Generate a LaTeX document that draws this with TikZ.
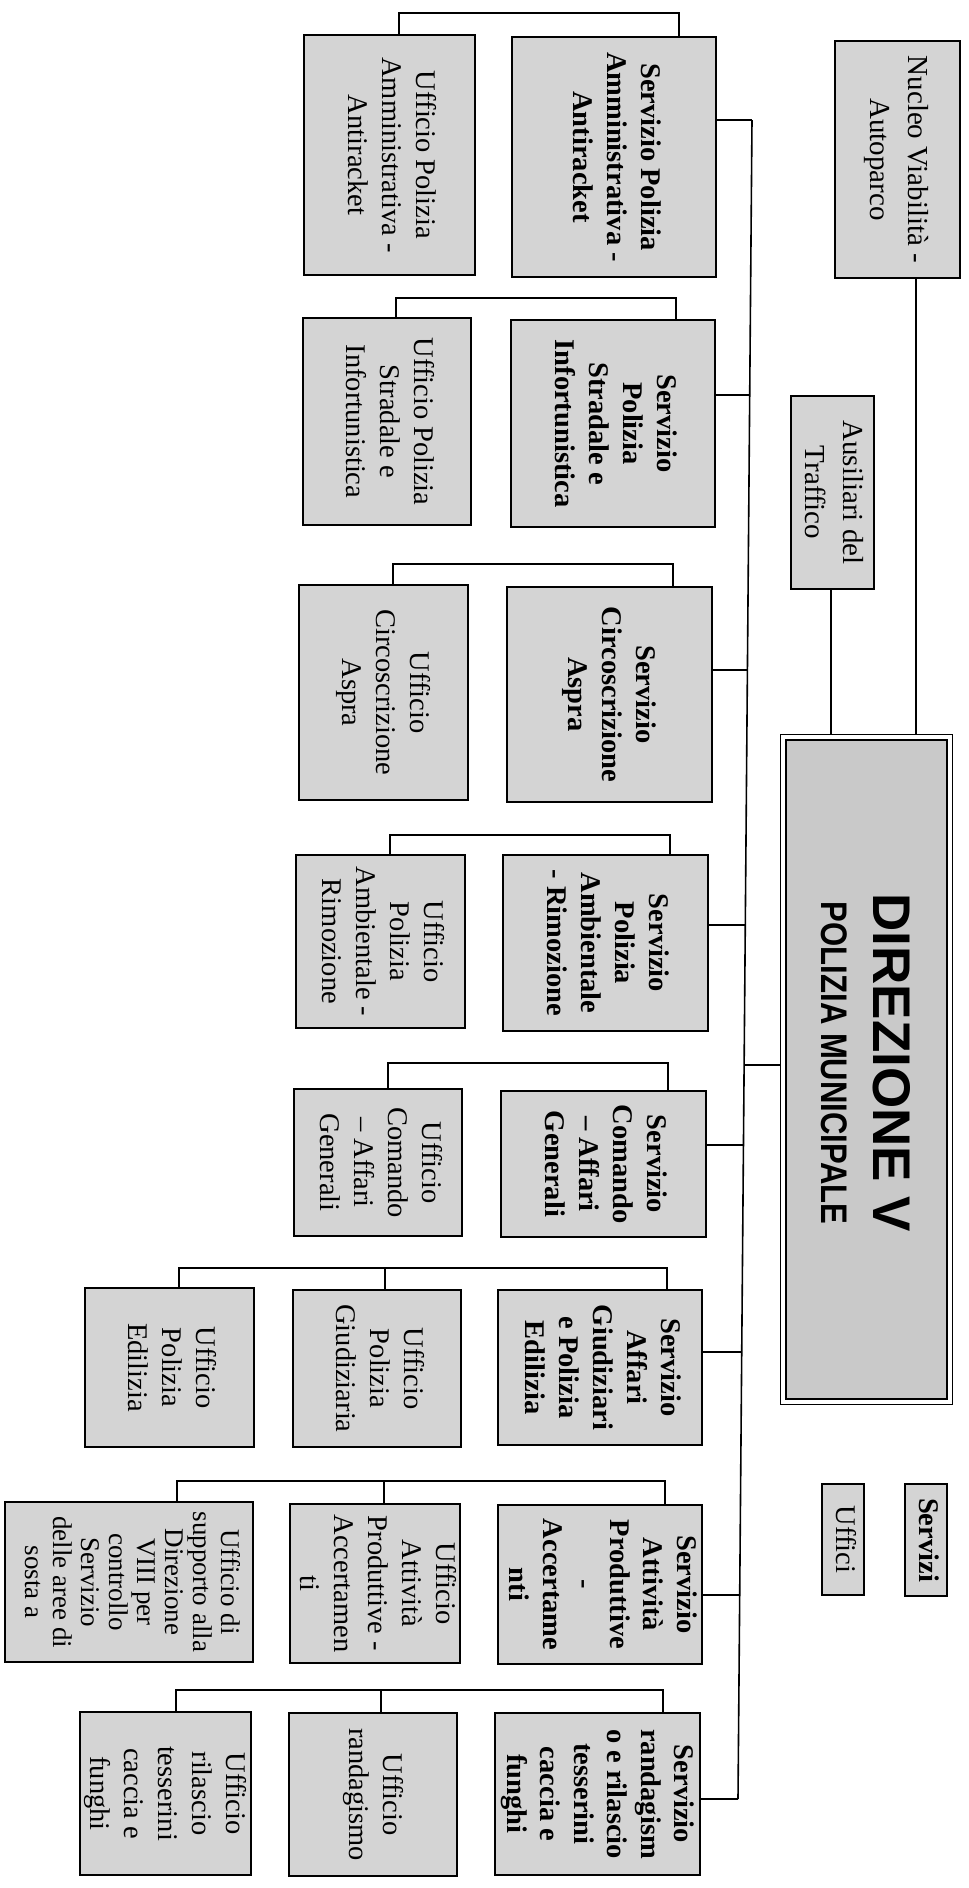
\documentclass[tikz,border=0pt]{standalone}
\usepackage{fontspec}
\usepackage{graphicx}
\setmainfont{Liberation Serif}
\newfontfamily\dirfont{Liberation Sans}
\newcommand\svtext[1]{\rotatebox{-90}{\fontsize{28.5}{34}\selectfont\bfseries\begin{tabular}{@{}c@{}}#1\end{tabular}}}
\newcommand\uftext[1]{\rotatebox{-90}{\fontsize{28.5}{34}\selectfont\begin{tabular}{@{}c@{}}#1\end{tabular}}}
\begin{document}
\begin{tikzpicture}[x=1pt,y=-1pt,
  orgbox/.style={draw=black, line width=1.8pt, fill=black!17, inner sep=0pt},
  conn/.style={draw=black, line width=1.6pt},
  dirbox/.style={draw=black, line width=2.2pt, fill=black!21, inner sep=0pt}]
\useasboundingbox (0,0) rectangle (969,1888);
\fill[white] (0,0) rectangle (969,1888);

% Top-level boxes
\node[orgbox, minimum width=125pt, minimum height=237pt] (nuc) at (897.5,159.5)
  {\rotatebox{-90}{\fontsize{29}{38}\selectfont\begin{tabular}{@{}c@{}}Nucleo Viabilità -\\Autoparco\end{tabular}}};
\node[orgbox, minimum width=83pt, minimum height=193pt] (aus) at (832.5,492.5)
  {\rotatebox{-90}{\fontsize{29}{38}\selectfont\begin{tabular}{@{}c@{}}Ausiliari del\\Traffico\end{tabular}}};
\node[dirbox, minimum width=161pt, minimum height=659pt] (dir) at (866.5,1069.5) {};
\draw[line width=1pt] ([shift={(-4pt,4pt)}]dir.north west) rectangle ([shift={(4pt,-4pt)}]dir.south east);
\node[inner sep=0pt] (dirtext) at (858,1063)
  {\rotatebox{-90}{\dirfont\bfseries\fontsize{37}{52}\selectfont\begin{tabular}{@{}c@{}}{\fontsize{53}{52}\selectfont DIREZIONE V}\\\scalebox{0.84}[1]{POLIZIA MUNICIPALE}\end{tabular}}};
\coordinate (dtop) at ([yshift=4pt]dir.north);
\coordinate (dleft) at ([xshift=-4pt]dir.west);

% Legend
\node[orgbox, minimum width=42pt, minimum height=112pt] (legs) at (926,1540) {\svtext{Servizi}};
\node[orgbox, minimum width=42pt, minimum height=111pt] (legu) at (843,1539.5) {\uftext{Uffici}};

% Row 1
\node[orgbox, minimum width=204pt, minimum height=240pt] (s1) at (614,157) {\svtext{Servizio Polizia\\Amministrativa -\\Antiracket}};
\node[orgbox, minimum width=171pt, minimum height=240pt] (u1) at (389.5,155) {\uftext{Ufficio Polizia\\Amministrativa -\\Antiracket}};
% Row 2
\node[orgbox, minimum width=204pt, minimum height=207pt] (s2) at (613,423.5) {\svtext{Servizio\\Polizia\\Stradale e\\Infortunistica}};
\node[orgbox, minimum width=168pt, minimum height=207pt] (u2) at (387,421.5) {\uftext{Ufficio Polizia\\Stradale e\\Infortunistica}};
% Row 3
\node[orgbox, minimum width=205pt, minimum height=215pt] (s3) at (609.5,694.5) {\svtext{Servizio\\Circoscrizione\\Aspra}};
\node[orgbox, minimum width=169pt, minimum height=215pt] (u3) at (383.5,692.5) {\uftext{Ufficio\\Circoscrizione\\Aspra}};
% Row 4
\node[orgbox, minimum width=205pt, minimum height=176pt] (s4) at (605.5,943) {\svtext{Servizio\\Polizia\\Ambientale\\- Rimozione}};
\node[orgbox, minimum width=169pt, minimum height=173pt] (u4) at (380.5,941.5) {\uftext{Ufficio\\Polizia\\Ambientale -\\Rimozione}};
% Row 5
\node[orgbox, minimum width=205pt, minimum height=146pt] (s5) at (603.5,1164) {\svtext{Servizio\\Comando\\– Affari\\Generali}};
\node[orgbox, minimum width=168pt, minimum height=147pt] (u5) at (378,1162.5) {\uftext{Ufficio\\Comando\\– Affari\\Generali}};
% Row 6
\node[orgbox, minimum width=204pt, minimum height=155pt] (s6) at (600,1367.5) {\svtext{Servizio\\Affari\\Giudiziari\\e Polizia\\Edilizia}};
\node[orgbox, minimum width=168pt, minimum height=157pt] (u6a) at (377,1368.5) {\uftext{Ufficio\\Polizia\\Giudiziaria}};
\node[orgbox, minimum width=169pt, minimum height=159pt] (u6b) at (169.5,1367.5) {\uftext{Ufficio\\Polizia\\Edilizia}};
% Row 7
\node[orgbox, minimum width=204pt, minimum height=159pt] (s7) at (600,1584.5) {\rotatebox{-90}{\fontsize{28.5}{33.5}\selectfont\bfseries\begin{tabular}{@{}c@{}}Servizio\\Attività\\Produttive\\-\\Accertame\\nti\end{tabular}}};
\node[orgbox, minimum width=168pt, minimum height=159pt] (u7a) at (375,1583.5) {\uftext{Ufficio\\Attività\\Produttive -\\Accertamen\\ti}};
\node[orgbox, minimum width=248pt, minimum height=160pt] (u7b) at (129,1582) {\rotatebox{-90}{\fontsize{27}{28}\selectfont\begin{tabular}{@{}c@{}}Ufficio di\\supporto alla\\Direzione\\VIII per\\controllo\\Servizio\\delle aree di\\sosta a\end{tabular}}};
% Row 8
\node[orgbox, minimum width=205pt, minimum height=162pt] (s8) at (597.5,1794) {\rotatebox{-90}{\fontsize{28.5}{33.5}\selectfont\bfseries\begin{tabular}{@{}c@{}}Servizio\\randagism\\o e rilascio\\tesserini\\caccia e\\funghi\end{tabular}}};
\node[orgbox, minimum width=168pt, minimum height=163pt] (u8a) at (373,1794.5) {\uftext{Ufficio\\randagismo}};
\node[orgbox, minimum width=171pt, minimum height=163pt] (u8b) at (165.5,1793.5) {\uftext{Ufficio\\rilascio\\tesserini\\caccia e\\funghi}};

% Trunk coordinates
\coordinate (t1) at (752,120);
\coordinate (t2) at (749.7,395);
\coordinate (t3) at (747.4,670);
\coordinate (t4) at (745.3,925);
\coordinate (td) at (744.1,1065);
\coordinate (t5) at (743.5,1145);
\coordinate (t6) at (741.7,1352);
\coordinate (t7) at (739.7,1595);
\coordinate (t8) at (738,1799);
\draw[conn] (t1) -- (t8);
\draw[conn] (s1.east |- t1) -- (t1);
\draw[conn] (s2.east |- t2) -- (t2);
\draw[conn] (s3.east |- t3) -- (t3);
\draw[conn] (s4.east |- t4) -- (t4);
\draw[conn] (s5.east |- t5) -- (t5);
\draw[conn] (s6.east |- t6) -- (t6);
\draw[conn] (s7.east |- t7) -- (t7);
\draw[conn] (s8.east |- t8) -- (t8);
\draw[conn] (td) -- (dleft |- td);

% Lines to director
\coordinate (nl) at (916,0);
\coordinate (al) at (831,0);
\draw[conn] (nuc.south -| nl) -- (nl |- dtop);
\draw[conn] (aus.south -| al) -- (al |- dtop);

% Brackets
\coordinate (k1) at (0,13);
\coordinate (k2) at (0,298);
\coordinate (k3) at (0,564);
\coordinate (k4) at (0,835);
\coordinate (k5) at (0,1063);
\coordinate (k6) at (0,1268);
\coordinate (k7) at (0,1481);
\coordinate (k8) at (0,1690);
\draw[conn] ([xshift=65pt]s1.north) -- ([xshift=65pt]s1.north |- k1) -| ([xshift=9.5pt]u1.north);
\draw[conn] ([xshift=63pt]s2.north) -- ([xshift=63pt]s2.north |- k2) -| ([xshift=9pt]u2.north);
\draw[conn] ([xshift=63.5pt]s3.north) -- ([xshift=63.5pt]s3.north |- k3) -| ([xshift=9.5pt]u3.north);
\draw[conn] ([xshift=64.5pt]s4.north) -- ([xshift=64.5pt]s4.north |- k4) -| ([xshift=9.5pt]u4.north);
\draw[conn] ([xshift=64.5pt]s5.north) -- ([xshift=64.5pt]s5.north |- k5) -| ([xshift=10pt]u5.north);
\draw[conn] ([xshift=67pt]s6.north) -- ([xshift=67pt]s6.north |- k6) -| ([xshift=9.5pt]u6b.north);
\draw[conn] ([xshift=8pt]u6a.north) -- ([xshift=8pt]u6a.north |- k6);
\draw[conn] ([xshift=65pt]s7.north) -- ([xshift=65pt]s7.north |- k7) -| ([xshift=48pt]u7b.north);
\draw[conn] ([xshift=9pt]u7a.north) -- ([xshift=9pt]u7a.north |- k7);
\draw[conn] ([xshift=65.5pt]s8.north) -- ([xshift=65.5pt]s8.north |- k8) -| ([xshift=10.5pt]u8b.north);
\draw[conn] ([xshift=8pt]u8a.north) -- ([xshift=8pt]u8a.north |- k8);
\end{tikzpicture}
\end{document}
